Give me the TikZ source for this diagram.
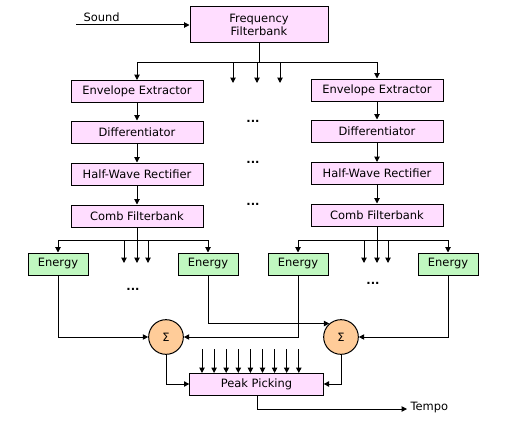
\documentclass[tikz,border=0pt]{standalone}
\usepackage{fontspec}
\setmainfont{DejaVu Sans}
\usetikzlibrary{arrows.meta}
\definecolor{pinkfill}{RGB}{255,221,255}
\definecolor{greenfill}{RGB}{192,248,192}
\definecolor{orangefill}{RGB}{255,204,153}
\begin{document}
\begin{tikzpicture}[x=0.75pt,y=-0.75pt,
  every node/.style={font=\fontsize{8.6pt}{10pt}\selectfont},
  line width=0.75pt,
  arr/.style={-{Triangle[length=4pt,width=4pt]}},
  pbox/.style={draw,fill=pinkfill,inner sep=0pt,minimum width=99pt,minimum height=16.5pt},
  ebox/.style={draw,fill=greenfill,inner sep=0pt,minimum width=45pt,minimum height=16.5pt},
  sumc/.style={draw,fill=orangefill,circle,inner sep=0pt,minimum size=26pt},
  lbl/.style={inner sep=0pt},
  dots/.style={inner sep=0pt,font=\bfseries\fontsize{8.6pt}{10pt}\selectfont}]
\useasboundingbox (0,0) rectangle (509,428);
% top
\node[pbox,minimum width=103.5pt,minimum height=27pt,align=center] (ff) at (259,25) {Frequency\\Filterbank};
\coordinate (snd) at (76,25);
\node[lbl,anchor=west] (sndl) at (83,17) {Sound};
\draw[arr] (snd) -- (ff.west);
% left column
\node[pbox] (ee1) at (137,91.5) {Envelope Extractor};
\node[pbox] (di1) at (137,132) {Differentiator};
\node[pbox] (hw1) at (137,174) {Half-Wave Rectifier};
\node[pbox] (cf1) at (137,216) {Comb Filterbank};
% right column
\node[pbox] (ee2) at (377,90) {Envelope Extractor};
\node[pbox] (di2) at (377,131) {Differentiator};
\node[pbox] (hw2) at (377,173.5) {Half-Wave Rectifier};
\node[pbox] (cf2) at (377,215) {Comb Filterbank};
% dots
\node[dots] (d1) at (253,121) {...};
\node[dots] (d2) at (253,162) {...};
\node[dots] (d3) at (253,204) {...};
% filterbank branches
\coordinate (fb) at (259,62);
\coordinate (fbl) at (137,62);
\coordinate (fbr) at (377,62);
\draw (ff.south) -- (fb);
\draw[arr] (fb) -- (fbl) -- (ee1.north);
\draw[arr] (fb) -- (fbr) -- (ee2.north);
\coordinate (m1a) at (233,62); \coordinate (m1b) at (233,83);
\coordinate (m2a) at (257,62); \coordinate (m2b) at (257,83);
\coordinate (m3a) at (280,62); \coordinate (m3b) at (280,83);
\draw[arr] (m1a) -- (m1b);
\draw[arr] (m2a) -- (m2b);
\draw[arr] (m3a) -- (m3b);
\draw[arr] (ee1) -- (di1);
\draw[arr] (di1) -- (hw1);
\draw[arr] (hw1) -- (cf1);
\draw[arr] (ee2) -- (di2);
\draw[arr] (di2) -- (hw2);
\draw[arr] (hw2) -- (cf2);
% energy boxes
\node[ebox] (en1) at (58,264) {Energy};
\node[ebox] (en2) at (208,264) {Energy};
\node[ebox] (en3) at (298,264) {Energy};
\node[ebox] (en4) at (448,264) {Energy};
\node[dots] (d4) at (133,289) {...};
\node[dots] (d5) at (373,283) {...};
% comb branches
\coordinate (c1) at (137,240);
\coordinate (c1l) at (58,240);
\coordinate (c1r) at (208,240);
\draw (cf1.south) -- (c1);
\draw[arr] (c1l) -- (c1r) -- (en2.north);
\draw[arr] (c1) -- (c1l) -- (en1.north);
\coordinate (c1a) at (124,240); \coordinate (c1ab) at (124,263);
\coordinate (c1bb) at (137,263);
\coordinate (c1c) at (148,240); \coordinate (c1cb) at (148,263);
\draw[arr] (c1a) -- (c1ab);
\draw[arr] (c1) -- (c1bb);
\draw[arr] (c1c) -- (c1cb);
\coordinate (c2) at (377,240);
\coordinate (c2l) at (298,240);
\coordinate (c2r) at (448,240);
\draw (cf2.south) -- (c2);
\draw[arr] (c2l) -- (c2r) -- (en4.north);
\draw[arr] (c2) -- (c2l) -- (en3.north);
\coordinate (c2a) at (364,240); \coordinate (c2ab) at (364,263);
\coordinate (c2bb) at (377,263);
\coordinate (c2c) at (388,240); \coordinate (c2cb) at (388,263);
\draw[arr] (c2a) -- (c2ab);
\draw[arr] (c2) -- (c2bb);
\draw[arr] (c2c) -- (c2cb);
% sums
\node[sumc] (s1) at (166,337) {Σ};
\node[sumc] (s2) at (341,337) {Σ};
\draw[arr] (en1.south) |- (s1.west);
\draw[arr] (en3.south) |- (s1.east);
\draw[arr] (en2.south) |- (s2.131);
\draw[arr] (en4.south) |- (s2.east);
% peak picking
\node[pbox,minimum width=100pt] (pp) at (256.5,384) {Peak Picking};
\draw[arr] (s1.south) |- (pp.west);
\draw[arr] (s2.south) |- (pp.east);
\foreach \i in {0,...,8} {
  \coordinate (pa\i) at (202+\i*12.1,349);
  \coordinate (pb\i) at (202+\i*12.1,373);
  \draw[arr] (pa\i) -- (pb\i);
}
\coordinate (tp) at (257,409);
\coordinate (tpe) at (407,409);
\node[lbl,anchor=west] (tempo) at (410,408) {Tempo};
\draw[arr] (pp.south -| tp) -- (tp) -- (tpe);
\end{tikzpicture}
\end{document}
